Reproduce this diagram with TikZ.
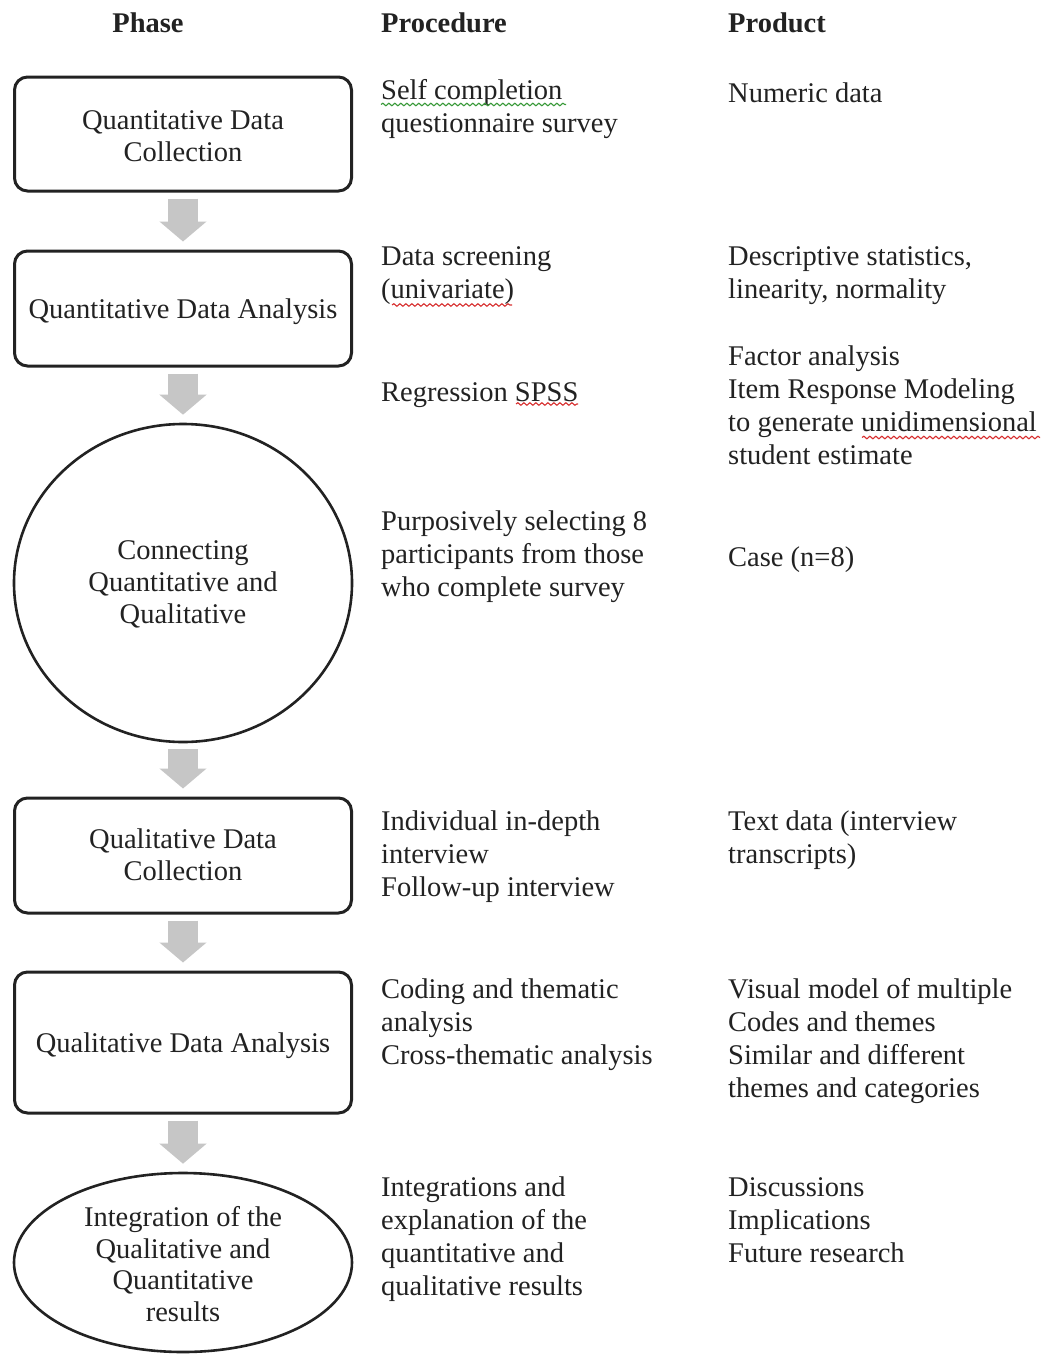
\documentclass[tikz,border=0pt]{standalone}
\usepackage{fontspec}
\setmainfont{Liberation Serif}
\usetikzlibrary{arrows.meta,shapes.geometric,decorations.pathmorphing}
\definecolor{arrowgray}{HTML}{C6C6C6}
\definecolor{inkc}{HTML}{222222}
\definecolor{spellred}{HTML}{D83030}
\definecolor{spellgreen}{HTML}{3A9A3A}
\newcommand{\fsz}{\fontsize{28.5}{33}\selectfont}
\renewcommand{\arraystretch}{0.96}
\newcommand{\ptext}[2][-3.5pt]{\raisebox{#1}[\height][\depth]{\begin{tabular}{@{}c@{}}#2\end{tabular}}}
\begin{document}
\begin{tikzpicture}[x=1pt,y=-1pt,
  phasebox/.style={draw=inkc, line width=3pt, rounded corners=13pt, minimum width=337pt, font=\fsz, text=inkc, inner sep=0pt},
  phaseoval/.style={draw=inkc, line width=2.6pt, ellipse, font=\fsz, text=inkc, inner xsep=0pt, inner ysep=-8pt},
  coltext/.style={anchor=north west, align=left, font=\fsz, text=inkc, inner sep=0pt, execute at begin node=\strut},
  head/.style={font=\fsz\bfseries, text=inkc, inner sep=0pt},
  flow/.style={arrowgray, line width=30pt, -{Triangle[width=46pt,length=20pt]}, shorten <=6pt, shorten >=8pt},
  squig/.style={decorate, decoration={snake, amplitude=1.3pt, segment length=6pt}, line width=1.1pt}
]
\useasboundingbox (0,0) rectangle (1045,1355);
\fill[white] (0,0) rectangle (1045,1355);

% headers
\node[head, anchor=base] (hphase) at (148,32) {Phase};
\node[head, anchor=base west] (hproc) at (381,32) {Procedure};
\node[head, anchor=base west] (hprod) at (728,32) {Product};

% phase shapes
\node[phasebox, minimum height=114pt] (b1) at (183,134) {\ptext[-5.5pt]{Quantitative Data\\Collection}};
\node[phasebox, minimum height=115pt] (b2) at (183,308.5) {\ptext{Quantitative Data Analysis}};
\node[phaseoval, minimum width=338pt, minimum height=318pt] (c1) at (183,583) {\ptext[-2pt]{Connecting\\Quantitative and\\Qualitative}};
\node[phasebox, minimum height=115pt] (b3) at (183,855.5) {\ptext[-2.5pt]{Qualitative Data\\Collection}};
\node[phasebox, minimum height=141pt] (b4) at (183,1042.5) {\ptext{Qualitative Data Analysis}};
\node[phaseoval, minimum width=338pt, minimum height=179pt] (e2) at (183,1262.5) {\ptext[-5pt]{Integration of the\\Qualitative and\\Quantitative\\results}};

% flow arrows
\draw[flow] (b1.south) -- (b2.north);
\draw[flow] (b2.south) -- (c1.north);
\draw[flow] (c1.south) -- (b3.north);
\draw[flow] (b3.south) -- (b4.north);
\draw[flow] (b4.south) -- (e2.north);

% procedure column
\node[coltext] (p1) at (381,79) {Self completion\\questionnaire survey};
\node[coltext] (p2) at (381,246.5) {Data screening\\(univariate)};
\node[coltext] (p3) at (381,378.5) {Regression SPSS};
\node[coltext] (p4) at (381,510.5) {Purposively selecting 8\\participants from those\\who complete survey};
\node[coltext] (p5) at (381,810.5) {Individual in-depth\\interview\\Follow-up interview};
\node[coltext] (p6) at (381,978.5) {Coding and thematic\\analysis\\Cross-thematic analysis};
\node[coltext] (p7) at (381,1177) {Integrations and\\explanation of the\\quantitative and\\qualitative results};

% product column
\node[coltext] (r1) at (728,79) {Numeric data};
\node[coltext] (r2) at (728,246.5) {Descriptive statistics,\\linearity, normality};
\node[coltext] (r3) at (728,345.5) {Factor analysis\\Item Response Modeling\\to generate unidimensional\\student estimate};
\node[coltext] (r4) at (728,543.5) {Case (n=8)};
\node[coltext] (r5) at (728,810.5) {Text data (interview\\transcripts)};
\node[coltext] (r6) at (728,978.5) {Visual model of multiple\\Codes and themes\\Similar and different\\themes and categories};
\node[coltext] (r7) at (728,1177) {Discussions\\Implications\\Future research};

% spell-check squiggles
\draw[squig, spellgreen] (381,104.5) -- (566,104.5);
\draw[squig, spellred] (392,305) -- (512,305);
\draw[squig, spellred] (516,404) -- (578,404);
\draw[squig, spellred] (862,437.5) -- (1040,437.5);
\end{tikzpicture}
\end{document}
